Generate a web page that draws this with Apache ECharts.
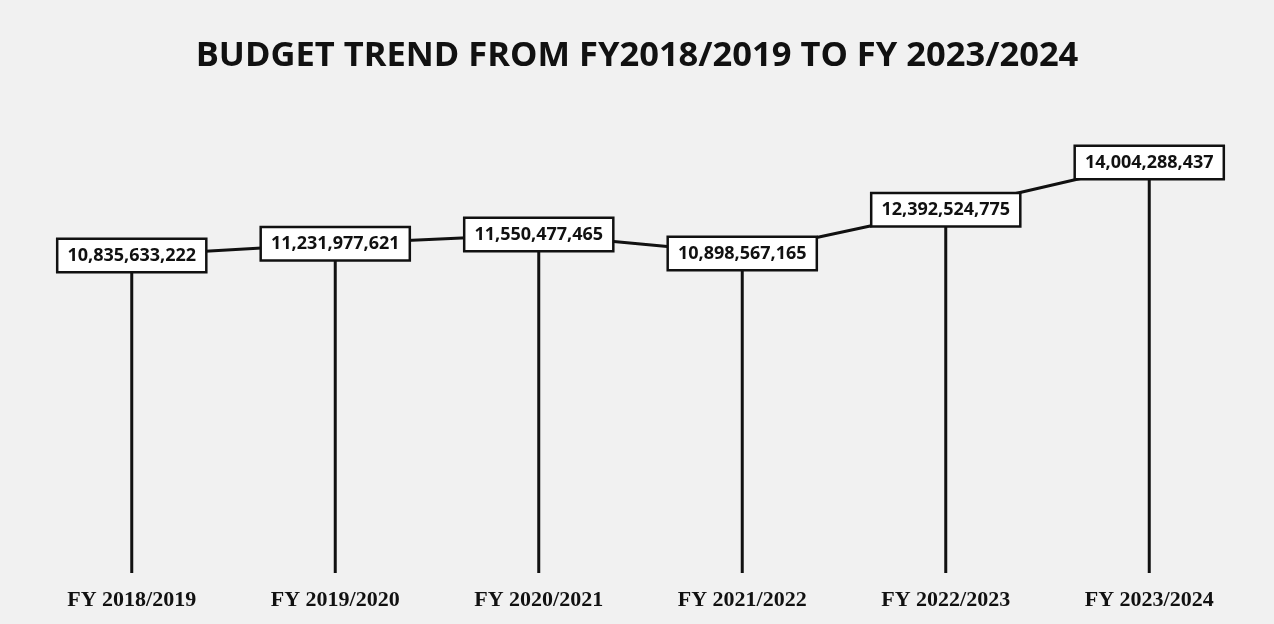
<!DOCTYPE html>
<html><head><meta charset="utf-8">
<script src="https://cdn.jsdelivr.net/npm/echarts@6/dist/echarts.min.js"></script>
<style>html,body{margin:0;padding:0;background:#f1f1f1}#c{width:1274px;height:624px}</style>
</head><body><div id="c"></div>
<script>
const categories = ['FY 2018/2019','FY 2019/2020','FY 2020/2021','FY 2021/2022','FY 2022/2023','FY 2023/2024'];
const budget = [10835633222, 11231977621, 11550477465, 10898567165, 12392524775, 14004288437];
const titleText = 'BUDGET TREND FROM FY2018/2019 TO FY 2023/2024';

const fmt = v => v.toLocaleString('en-US');
const chart = echarts.init(document.getElementById('c'));
chart.setOption({
  backgroundColor: '#f1f1f1',
  animation: false,
  title: {
    text: titleText, left: 'center', top: 34,
    textStyle: { fontFamily: 'Open Sans', fontWeight: 'bold', fontSize: 34.5, color: '#111' }
  },
  grid: { left: 30, right: 23, top: 104, bottom: 51 },
  xAxis: {
    type: 'category', data: categories,
    axisLine: { show: false }, axisTick: { show: false },
    axisLabel: { margin: 16, fontFamily: 'Liberation Serif', fontWeight: 'bold', fontSize: 22, color: '#111' }
  },
  yAxis: { type: 'value', min: 0, max: 16000000000, show: false, splitLine: { show: false } },
  series: [
    {
      type: 'bar', data: budget, barWidth: 3, itemStyle: { color: '#111' }, z: 1, silent: true
    },
    {
      type: 'line', data: budget, z: 3,
      symbol: 'circle', symbolSize: 1,
      itemStyle: { color: '#111' },
      lineStyle: { color: '#111', width: 3 },
      label: {
        show: true, position: 'inside', formatter: p => fmt(p.value),
        fontFamily: 'Open Sans', fontWeight: 'bold', fontSize: 18, color: '#111',
        backgroundColor: '#fff', borderColor: '#111', borderWidth: 2.5,
        padding: [7, 9, 6, 9]
      }
    }
  ]
});
</script></body></html>
